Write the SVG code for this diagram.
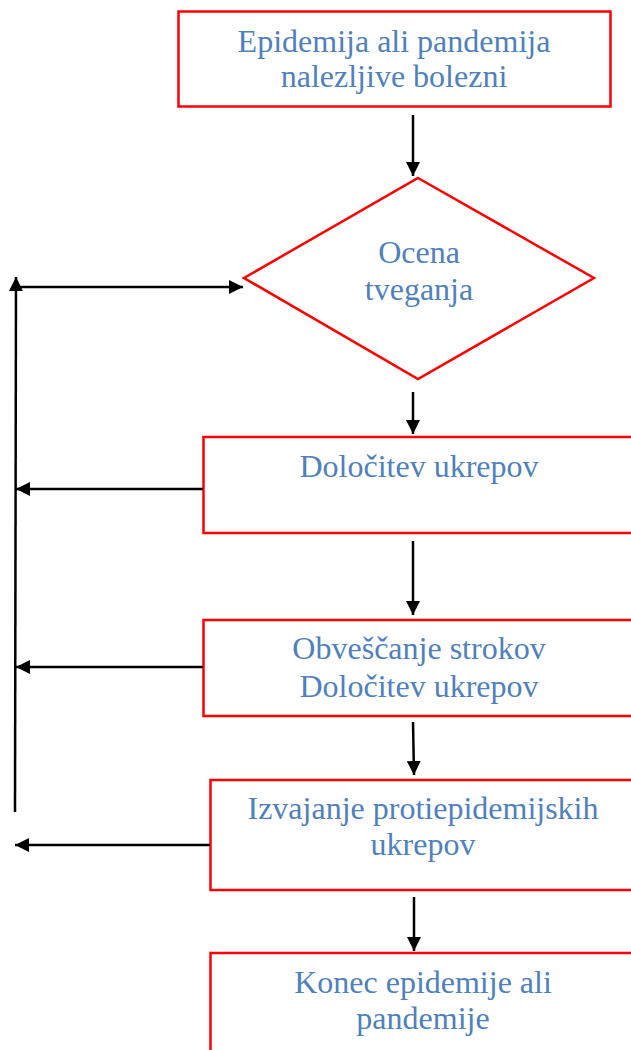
<svg xmlns="http://www.w3.org/2000/svg" width="631" height="1050" viewBox="0 0 631 1050">
<style>
.box{fill:#ffffff;stroke:#ff0000;stroke-width:2.5}
.lbl{font-family:"Liberation Serif","Times New Roman",serif;font-size:32px;fill:#4f81bd;text-anchor:middle}
.conn{stroke:#000000;stroke-width:2.5;fill:none}
</style>
<defs>
<marker id="ah" viewBox="0 0 14 14" refX="14" refY="7" markerWidth="14" markerHeight="14" markerUnits="userSpaceOnUse" orient="auto">
<path d="M0,0 L14,7 L0,14 z" fill="#000000"/>
</marker>
</defs>
<rect width="631" height="1050" fill="#ffffff"/>
<g id="n1">
<rect class="box" x="178.5" y="11.5" width="432" height="95"/>
<text class="lbl" x="394" y="52">Epidemija ali pandemija</text>
<text class="lbl" x="394" y="87">nalezljive bolezni</text>
</g>
<g id="n2">
<polygon class="box" stroke-width="2" points="418,178 594,278 418,379 244,278"/>
<text class="lbl" x="419" y="263">Ocena</text>
<text class="lbl" x="419" y="300">tveganja</text>
</g>
<g id="n3">
<rect class="box" x="203.5" y="437" width="440" height="96"/>
<text class="lbl" x="419" y="477">Določitev ukrepov</text>
</g>
<g id="n4">
<rect class="box" x="203.5" y="620" width="440" height="96"/>
<text class="lbl" x="419" y="659">Obveščanje strokov</text>
<text class="lbl" x="419" y="697">Določitev ukrepov</text>
</g>
<g id="n5">
<rect class="box" x="210.5" y="780" width="440" height="110"/>
<text class="lbl" x="423" y="819">Izvajanje protiepidemijskih</text>
<text class="lbl" x="423" y="855">ukrepov</text>
</g>
<g id="n6">
<rect class="box" x="210.5" y="953" width="440" height="120"/>
<text class="lbl" x="423" y="993">Konec epidemije ali</text>
<text class="lbl" x="423" y="1029">pandemije</text>
</g>
<g id="connectors">
<line class="conn" x1="413" y1="115" x2="413" y2="176" marker-end="url(#ah)"/>
<line class="conn" x1="413" y1="392" x2="413" y2="434" marker-end="url(#ah)"/>
<line class="conn" x1="413" y1="541" x2="413" y2="615" marker-end="url(#ah)"/>
<line class="conn" x1="413" y1="722" x2="414" y2="775" marker-end="url(#ah)"/>
<line class="conn" x1="414" y1="897" x2="414" y2="951" marker-end="url(#ah)"/>
<line class="conn" x1="15" y1="812" x2="16" y2="277" marker-end="url(#ah)"/>
<line class="conn" x1="16" y1="287" x2="243" y2="287" marker-end="url(#ah)"/>
<line class="conn" x1="203" y1="489" x2="16" y2="489" marker-end="url(#ah)"/>
<line class="conn" x1="203" y1="667" x2="16" y2="667" marker-end="url(#ah)"/>
<line class="conn" x1="210" y1="845" x2="15" y2="845" marker-end="url(#ah)"/>
</g>
</svg>
